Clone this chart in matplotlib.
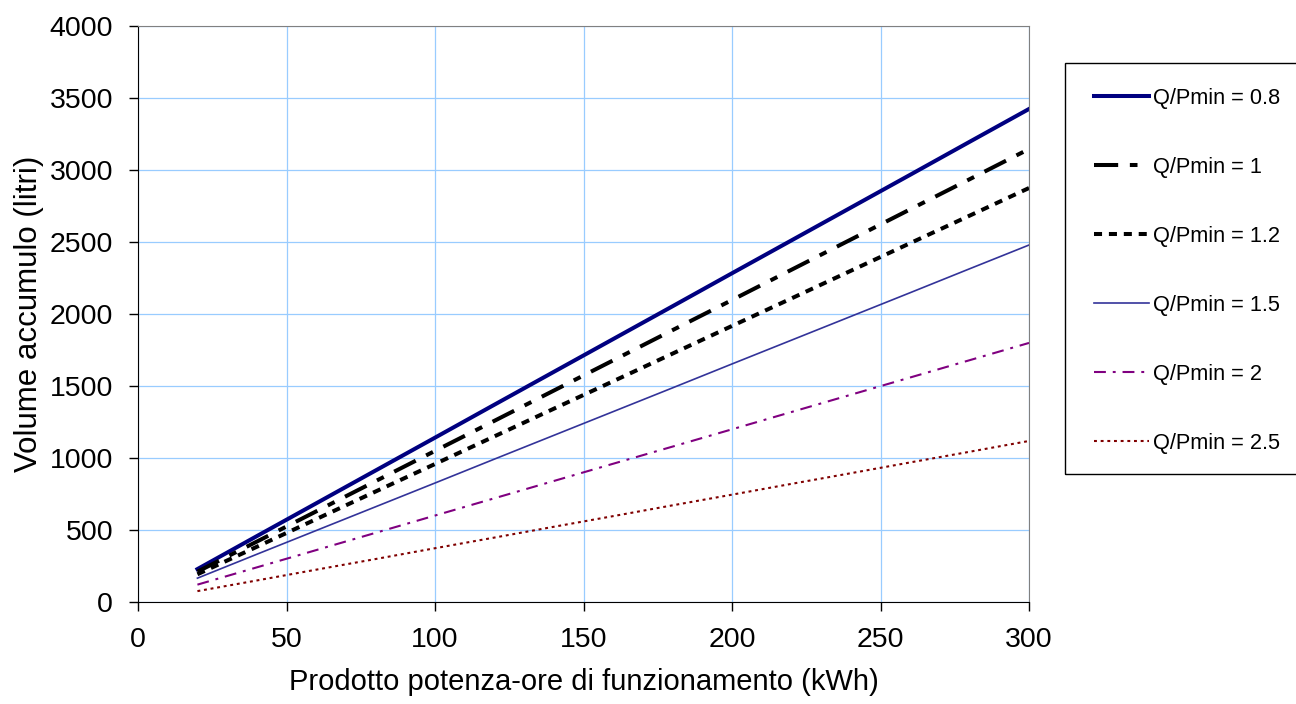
import matplotlib
matplotlib.use("Agg")
import matplotlib.pyplot as plt
from matplotlib.patches import Rectangle

plt.rcParams["font.family"] = ["Liberation Sans", "DejaVu Sans"]

# Data (kWh vs litres)
energy_kwh = [20, 40, 60, 80, 100, 120, 140, 160, 180, 200, 220, 240, 260, 280, 300]

vol_08 = [228, 457, 685, 913, 1141, 1370, 1598, 1826, 2054, 2283, 2511, 2739, 2967, 3196, 3424]
vol_1 = [210, 419, 629, 839, 1049, 1258, 1468, 1678, 1888, 2097, 2307, 2517, 2727, 2936, 3146]
vol_12 = [192, 383, 575, 767, 958, 1150, 1342, 1533, 1725, 1917, 2108, 2300, 2492, 2683, 2875]
vol_15 = [165, 331, 496, 661, 826, 992, 1157, 1322, 1487, 1653, 1818, 1983, 2148, 2314, 2479]
vol_2 = [120, 240, 360, 480, 600, 720, 840, 960, 1079, 1199, 1319, 1439, 1559, 1679, 1799]
vol_25 = [75, 149, 224, 298, 373, 447, 522, 596, 671, 745, 820, 894, 969, 1043, 1118]

labels = ["Q/Pmin = 0.8", "Q/Pmin = 1", "Q/Pmin = 1.2",
          "Q/Pmin = 1.5", "Q/Pmin = 2", "Q/Pmin = 2.5"]

x_ticks = [0, 50, 100, 150, 200, 250, 300]
y_ticks = [0, 500, 1000, 1500, 2000, 2500, 3000, 3500, 4000]

fig = plt.figure(figsize=(12.96, 7.04), dpi=100)
ax = fig.add_axes([0.1065, 0.145, 0.6875, 0.818])

ax.plot(energy_kwh, vol_08, color="#000080", lw=2.9, ls="-", label=labels[0])
ax.plot(energy_kwh, vol_1, color="black", lw=2.9, ls=(0, (6, 2.9, 1.9, 2.9)), label=labels[1])
ax.plot(energy_kwh, vol_12, color="black", lw=2.9, ls=(0, (2, 1.7)), label=labels[2])
ax.plot(energy_kwh, vol_15, color="#333399", lw=1.2, ls="-", label=labels[3])
ax.plot(energy_kwh, vol_2, color="#800080", lw=1.5, ls=(0, (5.7, 3.3, 1.4, 3.3)), label=labels[4])
ax.plot(energy_kwh, vol_25, color="#800000", lw=1.5, ls=(0, (1.4, 1.8)), label=labels[5])

ax.set_xlim(0, 300)
ax.set_ylim(0, 4000)
ax.set_xticks(x_ticks)
ax.set_yticks(y_ticks)
ax.grid(True, color="#99ccff", lw=0.9)
ax.set_axisbelow(True)

for side in ["top", "right"]:
    ax.spines[side].set_color("#808080")
for side in ["left", "bottom"]:
    ax.spines[side].set_color("black")

ax.tick_params(direction="out", length=6.5, width=1, labelsize=20.5, pad=11.5)
ax.set_xlabel("Prodotto potenza-ore di funzionamento (kWh)", fontsize=21, labelpad=11)
ax.set_ylabel("Volume accumulo (litri)", fontsize=22.5, labelpad=4)

# legend box (runs off the right edge like the original)
fig.patches.append(Rectangle((1065 / 1296, 1 - 474 / 704), 0.2, (474 - 63) / 704,
                             transform=fig.transFigure, fill=False,
                             edgecolor="black", lw=1.0))
leg = fig.legend(loc="upper left", bbox_to_anchor=(1094 / 1296, 1 - 88 / 704),
                 fontsize=15.7, frameon=False, borderpad=0, borderaxespad=0,
                 handlelength=2.5, handletextpad=0.2, labelspacing=2.2)

fig.savefig("out.png", dpi=100)
